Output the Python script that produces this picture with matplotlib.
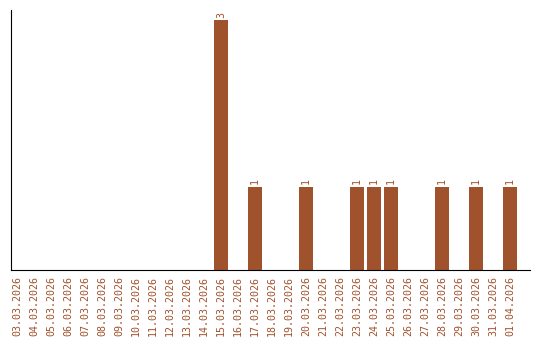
import matplotlib
matplotlib.use("Agg")
import matplotlib.pyplot as plt

dates = ["03.03.2026", "04.03.2026", "05.03.2026", "06.03.2026", "07.03.2026",
         "08.03.2026", "09.03.2026", "10.03.2026", "11.03.2026", "12.03.2026",
         "13.03.2026", "14.03.2026", "15.03.2026", "16.03.2026", "17.03.2026",
         "18.03.2026", "19.03.2026", "20.03.2026", "21.03.2026", "22.03.2026",
         "23.03.2026", "24.03.2026", "25.03.2026", "26.03.2026", "27.03.2026",
         "28.03.2026", "29.03.2026", "30.03.2026", "31.03.2026", "01.04.2026"]
counts = [0, 0, 0, 0, 0, 0, 0, 0, 0, 0,
          0, 0, 3, 0, 1, 0, 0, 1, 0, 0,
          1, 1, 1, 0, 0, 1, 0, 1, 0, 1]

color = "#A0522D"
font = "DejaVu Sans Mono"

fig = plt.figure(figsize=(5.4, 3.4), dpi=100)
ax = fig.add_axes([11/540, 70/340, 519/540, 260/340])
x = list(range(len(dates)))
ax.bar(x, counts, width=0.82, color=color)
for xi, v in zip(x, counts):
    if v > 0:
        ax.text(xi, v + 0.03, str(v), rotation=90, ha="center", va="bottom",
                color=color, fontsize=7.2, family=font)
ax.set_xlim(-0.35, 30.18)
ax.set_ylim(0, 3.12)
ax.set_xticks(x)
ax.set_xticklabels(dates, rotation=90, color=color, fontsize=7.2, family=font)
ax.tick_params(axis="x", length=0, pad=4)
ax.set_yticks([])
ax.spines["top"].set_visible(False)
ax.spines["right"].set_visible(False)
ax.spines["left"].set_color("black")
ax.spines["bottom"].set_color("black")
fig.savefig("out.png", dpi=100)
